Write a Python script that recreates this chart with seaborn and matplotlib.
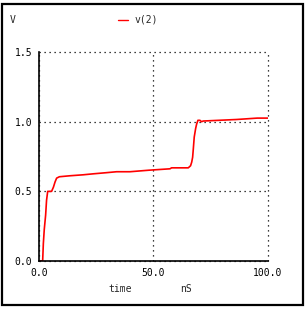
import numpy as np
import pandas as pd
import seaborn as sns
import matplotlib.pyplot as plt
from matplotlib.patches import Rectangle

# %% Data (time in nS, voltage in V)
lst_time = [0.0, 1.6, 1.9, 2.3, 2.9, 3.3, 3.8, 5.5, 6.3, 7.0, 7.7, 8.9,
            13.5, 19.3, 23.7, 29.3, 33.9, 39.7, 48.0, 57.2, 57.9, 65.2,
            66.2, 66.7, 67.1, 67.4, 67.8, 68.4, 68.8, 69.4, 70.3, 71.0,
            71.7, 78.3, 86.3, 95.3, 100.0]
lst_v2 = [0.0, 0.0, 0.126, 0.226, 0.33, 0.436, 0.5, 0.5, 0.53, 0.567,
          0.595, 0.605, 0.612, 0.619, 0.626, 0.634, 0.641, 0.641, 0.652,
          0.662, 0.669, 0.669, 0.684, 0.71, 0.745, 0.805, 0.89, 0.95,
          0.98, 1.01, 1.01, 1.0, 1.005, 1.01, 1.016, 1.026, 1.026]

lst_xticks = [0.0, 50.0, 100.0]
lst_yticks = [0.0, 0.5, 1.0, 1.5]

df = pd.DataFrame({'time': lst_time, 'v(2)': lst_v2})

# %% Plot
sns.set_style('white')
plt.rcParams['font.family'] = ['DejaVu Sans Mono']
plt.rcParams['font.size'] = 7

fig = plt.figure(figsize=(3.08, 3.10), dpi=100)
fig.patches.append(Rectangle((0.008, 0.016), 0.976, 0.970, transform=fig.transFigure,
                             fill=False, edgecolor='black', linewidth=1.6))
ax = fig.add_axes([0.1266, 0.158, 0.7434, 0.674])

sns.lineplot(data=df, x='time', y='v(2)', color='red', linewidth=1.2, ax=ax)

ax.set_xlim(0, 100)
ax.set_ylim(0, 1.5)
ax.set_xticks(lst_xticks)
ax.set_yticks(lst_yticks)
ax.set_xticklabels(['%.1f' % v for v in lst_xticks])
ax.set_yticklabels(['%.1f' % v for v in lst_yticks])
ax.tick_params(axis='both', length=0, pad=5, labelsize=7, colors='black')
ax.grid(True, color='black', linestyle=(0, (1, 3)), linewidth=0.9)
for line in ax.get_xgridlines() + ax.get_ygridlines():
    line.set_clip_on(False)
for side in ['top', 'right']:
    ax.spines[side].set_visible(False)
for side in ['left', 'bottom']:
    ax.spines[side].set_color('black')
    ax.spines[side].set_linewidth(1.2)
    ax.spines[side].set_zorder(3)
ax.set_xlabel('')
ax.set_ylabel('')

fig.text(10 / 308, 1 - 20 / 310, 'V', fontsize=7, va='center', ha='left')
fig.lines.append(plt.Line2D([118 / 308, 128 / 308], [1 - 20 / 310, 1 - 20 / 310],
                            transform=fig.transFigure, color='red', linewidth=1))
fig.text(135 / 308, 1 - 20 / 310, 'v(2)', fontsize=7, va='center', ha='left')
fig.text(108 / 308, 1 - 289 / 310, 'time', fontsize=7, va='center', ha='left')
fig.text(180 / 308, 1 - 289 / 310, 'nS', fontsize=7, va='center', ha='left')

fig.savefig('out.png', dpi=100)
